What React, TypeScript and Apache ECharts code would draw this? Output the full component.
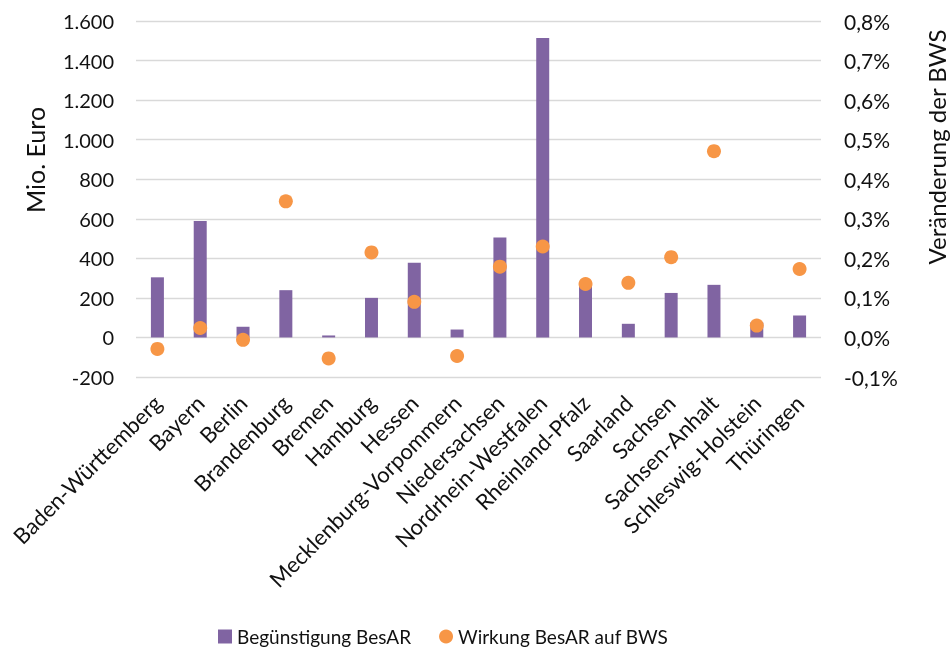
import React, { useEffect, useRef } from "react";
import * as echarts from "echarts";

const categories = [
  "Baden-Württemberg", "Bayern", "Berlin", "Brandenburg", "Bremen", "Hamburg", "Hessen",
  "Mecklenburg-Vorpommern", "Niedersachsen", "Nordrhein-Westfalen", "Rheinland-Pfalz",
  "Saarland", "Sachsen", "Sachsen-Anhalt", "Schleswig-Holstein", "Thüringen",
];
const beguenstigung = [304, 589, 54, 239, 10, 200, 378, 40, 505, 1514, 262, 69, 225, 266, 76, 111];
const wirkung = [-0.029, 0.024, -0.006, 0.344, -0.053, 0.215, 0.09, -0.047, 0.179, 0.23, 0.135, 0.138, 0.203, 0.471, 0.03, 0.173];

const FONT = "Lato, 'Open Sans', sans-serif";
const TXT = "#111111";

export default function App() {
  const ref = useRef<HTMLDivElement>(null);
  useEffect(() => {
    if (!ref.current) return;
    const chart = echarts.init(ref.current, undefined, { renderer: "svg" });
    chart.setOption({
      animation: false,
      textStyle: { fontFamily: FONT },
      grid: { left: 136, right: 129, top: 21, bottom: 275 },
      legend: {
        top: 627,
        left: 218,
        padding: 0,
        itemWidth: 14,
        itemHeight: 14,
        itemGap: 28,
        textStyle: { fontSize: 19, color: TXT, fontFamily: FONT },
        data: [
          { name: "Begünstigung BesAR", icon: "rect" },
          { name: "Wirkung BesAR auf BWS", icon: "circle" },
        ],
      },
      graphic: [
        {
          type: "text",
          x: 35,
          y: 160,
          rotation: Math.PI / 2,
          style: { text: "Mio. Euro", font: `25px ${FONT}`, fill: TXT, align: "center", verticalAlign: "middle" },
        },
        {
          type: "text",
          x: 936,
          y: 147,
          rotation: Math.PI / 2,
          style: { text: "Veränderung der BWS", font: `24px ${FONT}`, fill: TXT, align: "center", verticalAlign: "middle" },
        },
      ],
      xAxis: {
        type: "category",
        data: categories,
        axisLine: { show: false },
        axisTick: { show: false },
        axisLabel: { rotate: 45, fontSize: 22, color: TXT, margin: 22, interval: 0 },
      },
      yAxis: [
        {
          type: "value",
          min: -200,
          max: 1600,
          interval: 200,
          axisLine: { show: false },
          axisTick: { show: false },
          splitLine: { lineStyle: { color: "#d9d9d9", width: 1.3 } },
          axisLabel: {
            fontSize: 20,
            color: TXT,
            margin: 22,
            formatter: (v: number) => v.toLocaleString("de-DE"),
          },
        },
        {
          type: "value",
          min: -0.1,
          max: 0.8,
          interval: 0.1,
          axisLine: { show: false },
          axisTick: { show: false },
          splitLine: { show: false },
          axisLabel: {
            fontSize: 21,
            color: TXT,
            margin: 23,
            formatter: (v: number) => v.toFixed(1).replace(".", ",") + "%",
          },
        },
      ],
      series: [
        {
          name: "Begünstigung BesAR",
          type: "bar",
          data: beguenstigung,
          barWidth: 13,
          itemStyle: { color: "#8064A2" },
          yAxisIndex: 0,
        },
        {
          name: "Wirkung BesAR auf BWS",
          type: "scatter",
          data: wirkung,
          yAxisIndex: 1,
          symbolSize: 14,
          itemStyle: { color: "#F79646", opacity: 1 },
        },
      ],
    });
    return () => chart.dispose();
  }, []);
  return <div ref={ref} style={{ position: "fixed", left: 0, top: 0, width: 950, height: 652 }} />;
}
